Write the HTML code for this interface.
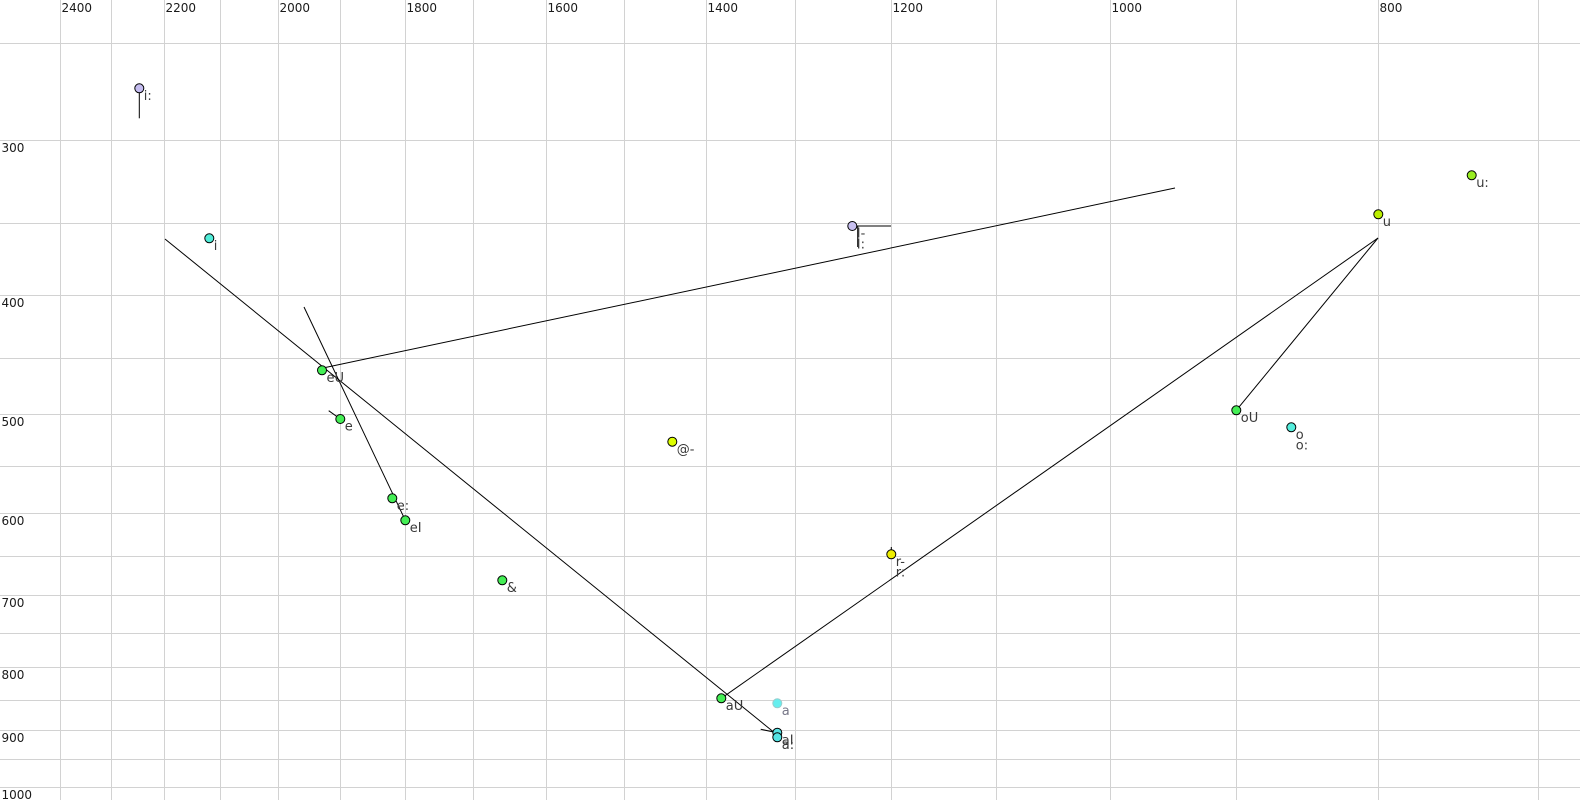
<!DOCTYPE html>
<html>
<head>
<meta charset="utf-8">
<style>
  html, body { margin: 0; padding: 0; background: #ffffff; }
  svg { display: block; }
  .tick { font-family: "DejaVu Sans", "Liberation Sans", sans-serif; font-size: 12px; fill: #1a1a1a; }
  .lab { font-family: "DejaVu Sans", "Liberation Sans", sans-serif; font-size: 13px; fill: #3a3a3a; }
</style>
</head>
<body>
<svg width="1580" height="800" viewBox="0 0 1580 800" xmlns="http://www.w3.org/2000/svg">
  <rect x="0" y="0" width="1580" height="800" fill="#ffffff"/>
  <!-- vertical grid -->
  <g stroke="#d2d2d2" stroke-width="1">
    <line x1="60.5" y1="0" x2="60.5" y2="800"/>
    <line x1="111.5" y1="0" x2="111.5" y2="800"/>
    <line x1="164.5" y1="0" x2="164.5" y2="800"/>
    <line x1="220.5" y1="0" x2="220.5" y2="800"/>
    <line x1="278.5" y1="0" x2="278.5" y2="800"/>
    <line x1="340.5" y1="0" x2="340.5" y2="800"/>
    <line x1="405.5" y1="0" x2="405.5" y2="800"/>
    <line x1="473.5" y1="0" x2="473.5" y2="800"/>
    <line x1="546.5" y1="0" x2="546.5" y2="800"/>
    <line x1="624.5" y1="0" x2="624.5" y2="800"/>
    <line x1="706.5" y1="0" x2="706.5" y2="800"/>
    <line x1="795.5" y1="0" x2="795.5" y2="800"/>
    <line x1="891.5" y1="0" x2="891.5" y2="800"/>
    <line x1="996.5" y1="0" x2="996.5" y2="800"/>
    <line x1="1110.5" y1="0" x2="1110.5" y2="800"/>
    <line x1="1236.5" y1="0" x2="1236.5" y2="800"/>
    <line x1="1378.5" y1="0" x2="1378.5" y2="800"/>
    <line x1="1538.5" y1="0" x2="1538.5" y2="800"/>
  </g>
  <!-- horizontal grid -->
  <g stroke="#d2d2d2" stroke-width="1">
    <line x1="0" y1="43.5" x2="1580" y2="43.5"/>
    <line x1="0" y1="140.5" x2="1580" y2="140.5"/>
    <line x1="0" y1="223.5" x2="1580" y2="223.5"/>
    <line x1="0" y1="295.5" x2="1580" y2="295.5"/>
    <line x1="0" y1="358.5" x2="1580" y2="358.5"/>
    <line x1="0" y1="414.5" x2="1580" y2="414.5"/>
    <line x1="0" y1="466.5" x2="1580" y2="466.5"/>
    <line x1="0" y1="513.5" x2="1580" y2="513.5"/>
    <line x1="0" y1="556.5" x2="1580" y2="556.5"/>
    <line x1="0" y1="595.5" x2="1580" y2="595.5"/>
    <line x1="0" y1="633.5" x2="1580" y2="633.5"/>
    <line x1="0" y1="667.5" x2="1580" y2="667.5"/>
    <line x1="0" y1="700.5" x2="1580" y2="700.5"/>
    <line x1="0" y1="730.5" x2="1580" y2="730.5"/>
    <line x1="0" y1="759.5" x2="1580" y2="759.5"/>
    <line x1="0" y1="787.5" x2="1580" y2="787.5"/>
  </g>
  <!-- x tick labels -->
  <g class="tick">
    <text x="61.5" y="12">2400</text>
    <text x="165.5" y="12">2200</text>
    <text x="279.5" y="12">2000</text>
    <text x="406.5" y="12">1800</text>
    <text x="547.5" y="12">1600</text>
    <text x="707.5" y="12">1400</text>
    <text x="892.5" y="12">1200</text>
    <text x="1111.5" y="12">1000</text>
    <text x="1379.5" y="12">800</text>
  </g>
  <!-- y tick labels -->
  <g class="tick">
    <text x="1.5" y="152">300</text>
    <text x="1.5" y="307">400</text>
    <text x="1.5" y="426">500</text>
    <text x="1.5" y="525">600</text>
    <text x="1.5" y="607">700</text>
    <text x="1.5" y="679">800</text>
    <text x="1.5" y="742">900</text>
    <text x="1.5" y="799">1000</text>
  </g>
  <!-- trajectory lines -->
  <g stroke="#000000" stroke-width="1" fill="none">
    <line x1="165" y1="239" x2="777.3" y2="735"/>
    <line x1="304" y1="307" x2="405.3" y2="520.3"/>
    <line x1="323" y1="368" x2="1175" y2="188"/>
    <line x1="721.3" y1="698.3" x2="1378" y2="238"/>
    <line x1="1236.3" y1="410.3" x2="1378" y2="238"/>
    <line x1="139.3" y1="88.3" x2="139.3" y2="118.3"/>
    <line x1="328.7" y1="410.7" x2="340.3" y2="419"/>
    <line x1="760.7" y1="729.3" x2="777.3" y2="732.7"/>
    <line x1="852.3" y1="226" x2="891" y2="226"/>
    <line x1="857.7" y1="226" x2="857.7" y2="247"/>
    <line x1="891.3" y1="547" x2="891.3" y2="554"/>
  </g>
  <!-- points -->
  <g stroke="#000000" stroke-width="1">
    <circle cx="139.3" cy="88.3" r="4.5" fill="#c4bcf0"/>
    <circle cx="209.3" cy="238.3" r="4.5" fill="#50ecd8"/>
    <circle cx="322" cy="370.3" r="4.5" fill="#44ee55"/>
    <circle cx="340.3" cy="419" r="4.5" fill="#44ee55"/>
    <circle cx="392.3" cy="498.3" r="4.5" fill="#44ee55"/>
    <circle cx="405.3" cy="520.3" r="4.5" fill="#44ee55"/>
    <circle cx="502.3" cy="580.3" r="4.5" fill="#44ee55"/>
    <circle cx="672.3" cy="441.7" r="4.5" fill="#ddff00"/>
    <circle cx="852.3" cy="226" r="4.5" fill="#c8c0f0"/>
    <circle cx="891.3" cy="554.3" r="4.5" fill="#eeee00"/>
    <circle cx="721.3" cy="698.3" r="4.5" fill="#44ee55"/>
    <circle cx="777.3" cy="703.3" r="4.5" fill="#66eeee" stroke="#99cccc"/>
    <circle cx="777.3" cy="732.7" r="4.5" fill="#55e4e4"/>
    <circle cx="777.3" cy="737.3" r="4.5" fill="#55e4e4"/>
    <circle cx="1236.3" cy="410.3" r="4.5" fill="#44ee55"/>
    <circle cx="1291.3" cy="427.3" r="4.5" fill="#55eedd"/>
    <circle cx="1378.3" cy="214.3" r="4.5" fill="#bbee00"/>
    <circle cx="1471.7" cy="175.3" r="4.5" fill="#99ee22"/>
  </g>
  <!-- point labels -->
  <g class="lab">
    <text x="143.8" y="100">i:</text>
    <text x="213.8" y="250">i</text>
    <text x="326.5" y="382">eU</text>
    <text x="344.8" y="430.7">e</text>
    <text x="396.8" y="510">e:</text>
    <text x="409.8" y="532">eI</text>
    <text x="506.8" y="592">&amp;</text>
    <text x="676.8" y="453.4">@-</text>
    <text x="856.8" y="237.7">I-</text>
    <text x="856.8" y="248.4">I:</text>
    <text x="895.8" y="566">r-</text>
    <text x="895.8" y="576.5">r:</text>
    <text x="725.8" y="710">aU</text>
    <text x="781.8" y="715" style="fill:#777788">a</text>
    <text x="781.8" y="744.4">aI</text>
    <text x="781.8" y="749">a:</text>
    <text x="1240.8" y="422">oU</text>
    <text x="1295.8" y="439">o</text>
    <text x="1295.8" y="449.5">o:</text>
    <text x="1382.8" y="226">u</text>
    <text x="1476.2" y="187">u:</text>
  </g>
</svg>
</body>
</html>
